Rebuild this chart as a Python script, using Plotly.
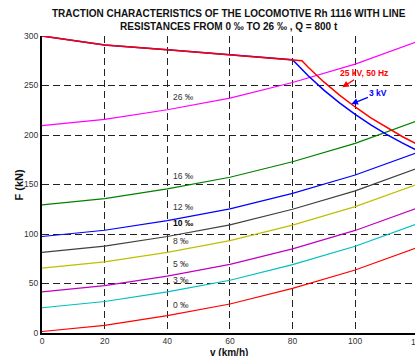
import plotly.graph_objects as go

# speeds (km/h)
v = [0, 20, 40, 60, 80, 100, 120]

# line resistance curves F (kN) for each gradient
grade_labels = ["0 ‰", "3 ‰", "5 ‰", "8 ‰", "10 ‰", "12 ‰", "16 ‰", "26 ‰"]
r_0 = [1.5, 7.8, 17.5, 29.3, 45.0, 63.6, 86.5]
r_3 = [25.5, 31.8, 41.5, 53.3, 69.0, 87.6, 110.5]
r_5 = [41.5, 47.8, 57.5, 69.3, 85.0, 103.6, 126.5]
r_8 = [65.5, 71.8, 81.5, 93.3, 109.0, 127.6, 150.5]
r_10 = [81.5, 87.8, 97.5, 109.3, 125.0, 143.6, 166.5]
r_12 = [97.5, 103.8, 113.5, 125.3, 141.0, 159.6, 182.5]
r_16 = [129.5, 135.8, 145.5, 157.3, 173.0, 191.6, 214.5]
r_26 = [209.5, 215.8, 225.5, 237.3, 253.0, 271.6, 294.5]
resist = [r_0, r_3, r_5, r_8, r_10, r_12, r_16, r_26]
resist_colors = ["#ff0000", "#00bfbf", "#bf00bf", "#bfbf00", "#404040",
                 "#0000ff", "#008000", "#ff00ff"]
# label anchor points (v, F)
label_v = [41.1, 41.1, 41.1, 41.1, 41.1, 41.1, 41.1, 41.1]
label_F = [28.3, 53.5, 69.7, 92.9, 111.1, 127.3, 158.6, 238.4]

# traction characteristics
v_ac = [0, 20, 40, 60, 80, 83, 85, 90, 95, 100, 105, 110, 115, 120]
f_ac = [300, 291, 286, 281, 276, 275, 268.5, 253.6, 240.3, 228.3, 217.4, 207.5, 198.5, 190.2]
v_dc = [0, 20, 40, 60, 80, 85, 90, 95, 100, 105, 110, 115, 120]
f_dc = [300, 291, 286, 281, 276, 259.8, 245.3, 232.4, 220.8, 210.3, 200.7, 192.0, 184.0]

FONT = "Liberation Sans, Arial, sans-serif"

fig = go.Figure()
for vals, col in zip(resist, resist_colors):
    fig.add_trace(go.Scatter(x=v, y=vals, mode="lines",
                             line=dict(color=col, width=1.2), showlegend=False))
fig.add_trace(go.Scatter(x=v_dc, y=f_dc, mode="lines",
                         line=dict(color="#0000ff", width=1.5), showlegend=False))
fig.add_trace(go.Scatter(x=v_ac, y=f_ac, mode="lines",
                         line=dict(color="#ff0000", width=1.5), showlegend=False))

ann = []
for lab, lv, lf in zip(grade_labels, label_v, label_F):
    bold = lab == "10 ‰"
    ann.append(dict(x=lv, y=lf, xref="x", yref="y", text=("<b>%s</b>" % lab) if bold else lab,
                    showarrow=False, xanchor="left", yanchor="middle",
                    font=dict(family=FONT, size=8.5, color="#000000" if bold else "#333333")))

ann.append(dict(x=95.9, y=248.2, xref="x", yref="y", text="<b>25 kV, 50 Hz</b>",
                showarrow=True, ax=22, ay=-14, arrowhead=2, arrowsize=1, arrowwidth=1.3,
                arrowcolor="#ff0000", font=dict(family=FONT, size=8.5, color="#ff0000")))
ann.append(dict(x=98.8, y=231.3, xref="x", yref="y", text="<b>3 kV</b>",
                showarrow=True, ax=27, ay=-11, arrowhead=2, arrowsize=1, arrowwidth=1.3,
                arrowcolor="#0000ff", font=dict(family=FONT, size=8.5, color="#0000ff")))

ann.append(dict(x=0.5, y=1, xref="paper", yref="paper", yshift=30, yanchor="top",
                text="<b>TRACTION CHARACTERISTICS OF THE LOCOMOTIVE Rh 1116 WITH LINE<br>"
                     "RESISTANCES FROM 0 ‰ TO 26 ‰ , Q = 800 t</b>",
                showarrow=False, font=dict(family=FONT, size=10, color="#111111")))
ann.append(dict(x=0.5, y=0, xref="paper", yref="paper", yshift=-12, yanchor="top",
                text="<b>v (km/h)</b>", showarrow=False,
                font=dict(family=FONT, size=10, color="#111111")))
ann.append(dict(x=0, y=0.5, xref="paper", yref="paper", xshift=-24, xanchor="center",
                text="<b>F (kN)</b>", textangle=-90, showarrow=False,
                font=dict(family=FONT, size=11, color="#111111")))
ann.append(dict(x=1.008, y=0, xref="paper", yref="paper", yshift=-2, yanchor="top",
                xanchor="center", text="120", showarrow=False,
                font=dict(family=FONT, size=8.5, color="#333333")))

fig.update_layout(
    width=415, height=356,
    margin=dict(l=42, r=0, t=36, b=23),
    paper_bgcolor="white", plot_bgcolor="white",
    showlegend=False,
    annotations=ann,
    font=dict(family=FONT, size=8.5, color="#333333"),
)
fig.update_xaxes(range=[0, 119.1], tickvals=[0, 20, 40, 60, 80, 100],
                 showgrid=True, gridcolor="#222222", gridwidth=1, griddash="7px,4px",
                 showline=True, linecolor="black", linewidth=2, zeroline=False,
                 ticks="", ticklabelstandoff=-1,
                 tickfont=dict(family=FONT, size=8.5, color="#333333"))
fig.update_yaxes(range=[0, 300], tickvals=[0, 50, 100, 150, 200, 250, 300],
                 showgrid=True, gridcolor="#222222", gridwidth=1, griddash="7px,4px",
                 showline=True, linecolor="black", linewidth=2, zeroline=False,
                 ticks="", tickfont=dict(family=FONT, size=8.5, color="#333333"))

fig.write_html("out.html")
